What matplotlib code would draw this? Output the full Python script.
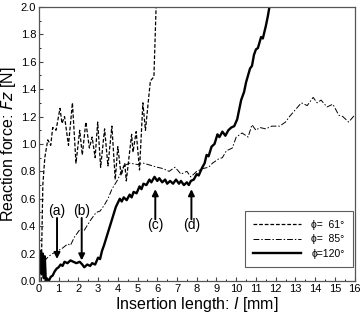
import matplotlib
matplotlib.use('Agg')
import matplotlib.pyplot as plt
from matplotlib.ticker import MultipleLocator

plt.rcParams['font.family'] = ['Liberation Sans', 'DejaVu Sans']

# phi = 61 deg (dashed)
x61 = [0.12, 0.15, 0.2, 0.3, 0.45, 0.6, 0.7, 0.87, 1.07, 1.17, 1.3, 1.5, 1.7, 1.88,
       2.07, 2.2, 2.38, 2.56, 2.7, 2.85, 2.98, 3.13, 3.33, 3.5, 3.7, 3.87, 4.0, 4.17,
       4.35, 4.43, 4.7, 4.77, 4.93, 5.1, 5.27, 5.4, 5.65, 5.83, 5.94, 6.0]
y61 = [0.0, 0.3, 0.7, 0.9, 1.03, 0.99, 1.12, 1.1, 1.26, 1.15, 1.2, 0.99, 1.3, 0.86,
       1.1, 0.92, 1.16, 0.97, 1.05, 0.9, 1.16, 0.83, 1.11, 0.84, 1.13, 0.74, 0.98, 0.77,
       0.86, 0.73, 1.07, 0.94, 1.09, 0.81, 1.3, 1.1, 1.46, 1.49, 2.0, 2.1]

# phi = 85 deg (dash-dot)
x85 = [0.0, 0.05, 0.1, 0.2, 0.3, 0.5, 0.7, 0.96, 1.2, 1.46, 1.6, 1.8, 2.1, 2.3, 2.6,
       2.9, 3.1, 3.3, 3.5, 3.7, 4.0, 4.3, 4.6, 5.0, 5.3, 5.76, 6.0, 6.3, 6.6, 6.9, 7.2,
       7.5, 7.7, 8.0, 8.3, 8.6, 8.8, 9.1, 9.3, 9.5, 9.8, 10.0, 10.3, 10.6, 10.8, 11.0,
       11.2, 11.5, 11.8, 12.2, 12.5, 12.7, 13.0, 13.3, 13.6, 13.9, 14.1, 14.3, 14.6,
       14.9, 15.2, 15.4, 15.7, 16.0]
y85 = [0.0, 0.2, 0.16, 0.2, 0.15, 0.18, 0.2, 0.22, 0.24, 0.27, 0.26, 0.32, 0.38, 0.37,
       0.44, 0.5, 0.51, 0.55, 0.6, 0.67, 0.74, 0.84, 0.86, 0.85, 0.86, 0.84, 0.83, 0.82,
       0.80, 0.83, 0.78, 0.80, 0.76, 0.8, 0.82, 0.83, 0.86, 0.89, 0.9, 0.95, 0.97, 1.05,
       1.08, 1.05, 1.14, 1.1, 1.12, 1.11, 1.13, 1.13, 1.16, 1.2, 1.25, 1.3, 1.28, 1.34,
       1.3, 1.32, 1.27, 1.29, 1.21, 1.2, 1.16, 1.21]

# phi = 120 deg (thick solid)
x120 = [0.0, 0.05, 0.1, 0.15, 0.2, 0.25, 0.3, 0.35, 0.4, 0.5, 0.6, 0.7, 0.8, 0.9, 1.0,
        1.1, 1.2, 1.3, 1.45, 1.6, 1.75, 1.9, 2.07, 2.2, 2.3, 2.45, 2.6, 2.7, 2.85, 3.0,
        3.1, 3.2, 3.3, 3.45, 3.6, 3.75, 3.9, 4.0, 4.1, 4.2, 4.3, 4.45, 4.6, 4.7, 4.8,
        4.95, 5.1, 5.2, 5.3, 5.45, 5.6, 5.7, 5.86, 6.0, 6.1, 6.25, 6.4, 6.5, 6.65, 6.8,
        6.95, 7.1, 7.2, 7.35, 7.5, 7.6, 7.7, 7.85, 8.0, 8.1, 8.25, 8.4, 8.5, 8.6, 8.75,
        8.9, 9.05, 9.15, 9.3, 9.45, 9.6, 9.75, 9.9, 10.05, 10.15, 10.25, 10.4, 10.5,
        10.6, 10.7, 10.8, 10.9, 11.0, 11.1, 11.26, 11.35, 11.5, 11.6, 11.66, 11.75]
y120 = [0.0, 0.2, 0.22, 0.05, 0.2, 0.02, 0.18, 0.0, 0.02, 0.0, 0.03, 0.04, 0.07, 0.09,
        0.1, 0.12, 0.11, 0.14, 0.13, 0.15, 0.14, 0.13, 0.14, 0.12, 0.1, 0.12, 0.11, 0.13,
        0.12, 0.17, 0.16, 0.22, 0.26, 0.33, 0.4, 0.47, 0.54, 0.57, 0.6, 0.58, 0.61, 0.59,
        0.63, 0.61, 0.65, 0.64, 0.69, 0.67, 0.71, 0.7, 0.74, 0.72, 0.76, 0.73, 0.75, 0.72,
        0.74, 0.71, 0.73, 0.71, 0.74, 0.71, 0.73, 0.7, 0.72, 0.7, 0.73, 0.74, 0.78, 0.77,
        0.82, 0.86, 0.92, 0.91, 0.98, 1.0, 1.07, 1.05, 1.09, 1.06, 1.1, 1.12, 1.13, 1.18,
        1.25, 1.32, 1.38, 1.45, 1.5, 1.55, 1.57, 1.65, 1.69, 1.7, 1.78, 1.77, 1.86, 1.93,
        1.98, 2.05]

labels = ['\u03d5=  61\u00b0', '\u03d5=  85\u00b0', '\u03d5=120\u00b0']

# annotation arrows: (label, x, y_label, y_tip)
marks = [('(a)', 0.92, 0.51, 0.16), ('(b)', 2.17, 0.51, 0.15),
         ('(c)', 5.9, 0.41, 0.67), ('(d)', 7.73, 0.41, 0.67)]

fig = plt.figure(figsize=(3.6, 3.15), dpi=100)
ax = fig.add_axes([0.108, 0.108, 0.877, 0.87])

ax.plot(x61, y61, color='black', lw=0.9, ls=(0, (3, 1.5)), label=labels[0])
ax.plot(x85, y85, color='black', lw=0.7, ls=(0, (6, 2, 1.5, 2)), label=labels[1])
ax.plot(x120, y120, color='black', lw=1.7, label=labels[2])

for txt, x, yl, yt in marks:
    up = yt > yl
    ax.annotate('', xy=(x, yt), xytext=(x, yl + (0.04 if up else -0.05)),
                arrowprops=dict(arrowstyle='-|>', color='black', lw=1.4,
                                mutation_scale=9, shrinkA=0, shrinkB=0))
    ax.text(x, yl, txt, ha='center', va='center', fontsize=10)

ax.set_xlim(0, 16)
ax.set_ylim(0, 2.0)
ax.xaxis.set_major_locator(MultipleLocator(1))
ax.xaxis.set_minor_locator(MultipleLocator(0.5))
ax.yaxis.set_major_locator(MultipleLocator(0.2))
ax.yaxis.set_minor_locator(MultipleLocator(0.1))
ax.yaxis.set_major_formatter(lambda v, p: f'{v:.1f}')
ax.tick_params(direction='in', labelsize=8, length=3, width=0.8, pad=2, color='#444444')
ax.tick_params(which='minor', direction='in', length=1.5, width=0.6)
for s in ax.spines.values():
    s.set_linewidth(0.9)
    s.set_color('#555555')

ax.set_xlabel('Insertion length: $\\it{l}$ [mm]', fontsize=11.5, labelpad=1)
ax.set_ylabel('Reaction force: $\\it{Fz}$ [N]', fontsize=11.5, labelpad=2)

leg = ax.legend(loc='lower right', bbox_to_anchor=(0.995, 0.05), borderaxespad=0,
                fontsize=7.5, handlelength=4.6, frameon=True, fancybox=False,
                borderpad=0.8, labelspacing=0.45, handletextpad=1.0)
leg.get_frame().set_edgecolor('#333333')
leg.get_frame().set_linewidth(0.8)

fig.savefig('out.png', dpi=100)
